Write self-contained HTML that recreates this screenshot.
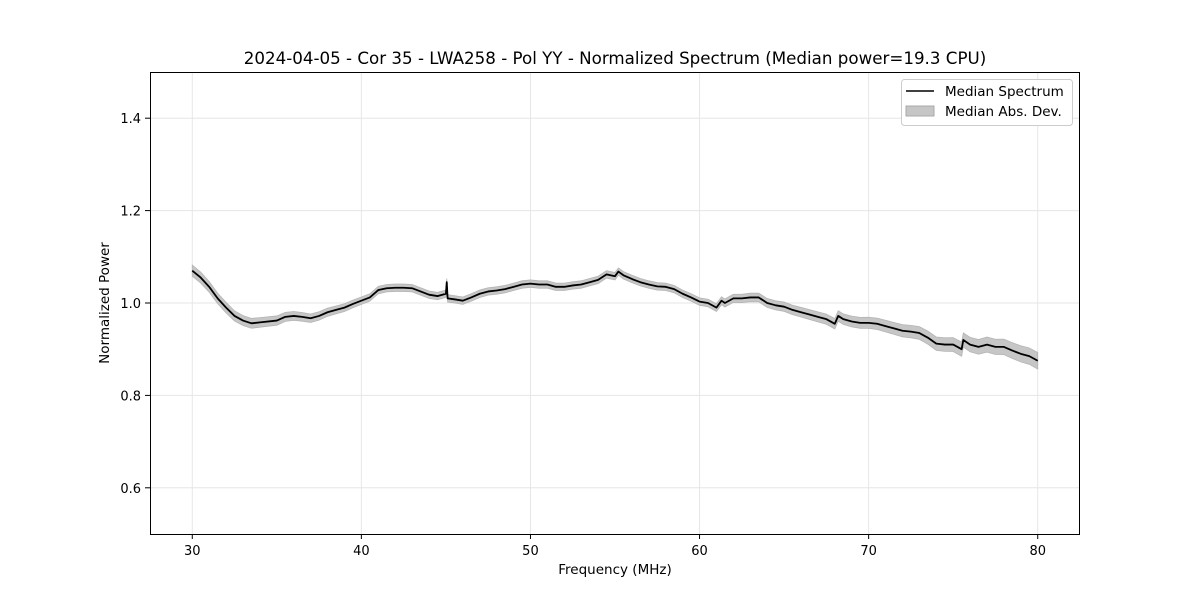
<!DOCTYPE html>
<html><head><meta charset="utf-8"><style>
body{margin:0;background:#fff;font-family:"Liberation Sans","DejaVu Sans",sans-serif}
svg text{font-family:"DejaVu Sans","Liberation Sans",sans-serif}
</style></head><body>
<svg id="chart" width="1200" height="600" viewBox="0 0 1200 600" xmlns="http://www.w3.org/2000/svg">
<rect width="1200" height="600" fill="#fff"/>
<text x="615" y="64" font-size="16.7" text-anchor="middle">2024-04-05 - Cor 35 - LWA258 - Pol YY - Normalized Spectrum (Median power=19.3 CPU)</text>
<g id="grid"></g>
<g id="band"></g>
<g id="line"></g>
<rect x="150.5" y="72.5" width="929" height="462" fill="none" stroke="#000" stroke-width="1"/>
<g id="ticks"></g>
<text x="615" y="574" font-size="13.5" text-anchor="middle">Frequency (MHz)</text>
<text transform="translate(109,303) rotate(-90)" font-size="13.5" text-anchor="middle">Normalized Power</text>
<g>
<rect x="901.5" y="79.5" width="171" height="46" rx="3" fill="#fff" stroke="#ccc"/>
<line x1="906" y1="91" x2="934" y2="91" stroke="#000" stroke-width="1.6"/>
<text x="945" y="96" font-size="13.5">Median Spectrum</text>
<rect x="906" y="106" width="28" height="10" fill="#c6c6c6" stroke="#aaa"/>
<text x="945" y="116" font-size="13.5">Median Abs. Dev.</text>
</g>
</svg>
<script>
const freqs=[30,30.5,31,31.5,32,32.5,33,33.5,34,35,35.5,36,36.5,37,37.5,38,38.5,39,39.5,40,40.5,41,41.5,42,42.5,43,43.5,44,44.5,45,45.05,45.1,45.5,46,46.5,47,47.5,48,48.5,49,49.5,50,50.5,51,51.5,52,52.5,53,53.5,54,54.5,55,55.2,55.5,56,56.5,57,57.5,58,58.5,59,59.5,60,60.5,61,61.3,61.5,62,62.5,63,63.5,64,64.5,65,65.5,66,66.5,67,67.5,68,68.2,68.5,69,69.5,70,70.5,71,71.5,72,72.5,73,73.5,74,74.5,75,75.5,75.6,76,76.5,77,77.5,78,78.5,79,79.5,80];
const medianVals=[1.07,1.055,1.035,1.01,0.99,0.972,0.962,0.956,0.958,0.962,0.97,0.972,0.97,0.967,0.972,0.98,0.985,0.99,0.998,1.005,1.012,1.028,1.032,1.033,1.033,1.032,1.025,1.018,1.015,1.02,1.045,1.01,1.008,1.005,1.012,1.02,1.025,1.027,1.03,1.035,1.04,1.042,1.04,1.04,1.035,1.035,1.038,1.04,1.045,1.05,1.062,1.058,1.068,1.06,1.052,1.045,1.04,1.036,1.035,1.03,1.02,1.012,1.003,1.0,0.99,1.005,1.0,1.01,1.01,1.012,1.012,1.0,0.995,0.992,0.985,0.98,0.975,0.97,0.965,0.955,0.972,0.965,0.96,0.957,0.957,0.955,0.95,0.945,0.94,0.938,0.935,0.925,0.912,0.91,0.91,0.9,0.92,0.91,0.905,0.91,0.905,0.905,0.897,0.89,0.885,0.875];
const devFreqs=[30,40,50,60,65,70,75,80];
const devVals=[0.012,0.008,0.008,0.008,0.01,0.012,0.015,0.018];
const xTicks=[30,40,50,60,70,80];
const yTicks=[0.6,0.8,1.0,1.2,1.4];
const xDomain=[27.5,82.5], yDomain=[0.5,1.5];
const X=v=>150+(v-xDomain[0])/(xDomain[1]-xDomain[0])*930;
const Y=v=>534-(v-yDomain[0])/(yDomain[1]-yDomain[0])*462;
function dev(f){for(let i=0;i<devFreqs.length-1;i++){if(f<=devFreqs[i+1]){const t=(f-devFreqs[i])/(devFreqs[i+1]-devFreqs[i]);return devVals[i]+t*(devVals[i+1]-devVals[i]);}}return devVals[devVals.length-1];}
const NS="http://www.w3.org/2000/svg";
const grid=document.getElementById('grid'),ticks=document.getElementById('ticks');
xTicks.forEach(t=>{
 const g=document.createElementNS(NS,'line');
 
 
 g.setAttribute('x1',X(t));g.setAttribute('x2',X(t));g.setAttribute('y1',72);g.setAttribute('y2',534);g.setAttribute('stroke','#e6e6e6');grid.appendChild(g);
 const k=document.createElementNS(NS,'line');
 
 
 k.setAttribute('x1',X(t));k.setAttribute('x2',X(t));k.setAttribute('y1',534);k.setAttribute('y2',539);k.setAttribute('stroke','#000');ticks.appendChild(k);
 const l=document.createElementNS(NS,'text');
 
 
 l.setAttribute('x',X(t));l.setAttribute('y',555);l.setAttribute('font-size','13');l.setAttribute('text-anchor','middle');l.textContent=t;ticks.appendChild(l);
});
yTicks.forEach(t=>{
 const g=document.createElementNS(NS,'line');
 
 
 g.setAttribute('x1',150);g.setAttribute('x2',1080);g.setAttribute('y1',Y(t));g.setAttribute('y2',Y(t));g.setAttribute('stroke','#e6e6e6');grid.appendChild(g);
 const k=document.createElementNS(NS,'line');
 
 
 k.setAttribute('x1',145);k.setAttribute('x2',150);k.setAttribute('y1',Y(t));k.setAttribute('y2',Y(t));k.setAttribute('stroke','#000');ticks.appendChild(k);
 const l=document.createElementNS(NS,'text');
 
 
 l.setAttribute('x',141);l.setAttribute('y',Y(t)+5);l.setAttribute('font-size','13');l.setAttribute('text-anchor','end');l.textContent=t.toFixed(1);ticks.appendChild(l);
});
let up=[],dn=[];
freqs.forEach((f,i)=>{up.push(X(f)+','+Y(medianVals[i]+dev(f)));dn.unshift(X(f)+','+Y(medianVals[i]-dev(f)));});
const band=document.createElementNS(NS,'polygon');


band.setAttribute('points',up.concat(dn).join(' '));band.setAttribute('fill','#c6c6c6');band.setAttribute('stroke','#b5b5b5');band.setAttribute('stroke-width','0.8');
document.getElementById('band').appendChild(band);
const line=document.createElementNS(NS,'polyline');


line.setAttribute('points',freqs.map((f,i)=>X(f)+','+Y(medianVals[i])).join(' '));line.setAttribute('fill','none');line.setAttribute('stroke','#000');line.setAttribute('stroke-width','1.8');line.setAttribute('stroke-linejoin','round');
document.getElementById('line').appendChild(line);
</script>
</body></html>
